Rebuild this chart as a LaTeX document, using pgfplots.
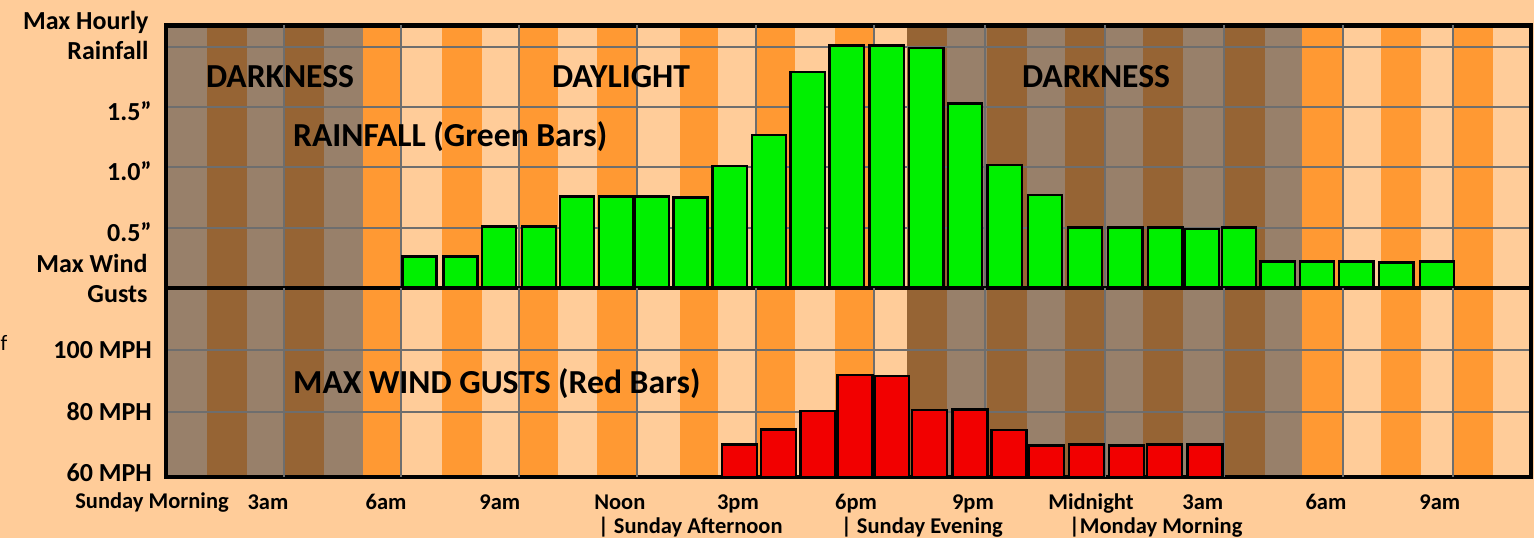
\documentclass[border=0pt]{standalone}
\usepackage{pgfplots}
\pgfplotsset{compat=1.18}
\usepackage{pgfplotstable}
\usepackage{fontspec}
\setmainfont{Carlito}
\definecolor{bg}{HTML}{FFCC99}
\definecolor{dkgray}{HTML}{98806A}
\definecolor{dkbrown}{HTML}{966434}
\definecolor{dorange}{HTML}{FF9933}
\definecolor{dlight}{HTML}{FFCC99}
\definecolor{gridc}{HTML}{6E6E6E}
\definecolor{barg}{HTML}{00F000}
\definecolor{barr}{HTML}{F20000}

% Max hourly rainfall (inches); x = hour position
\pgfplotstableread{
x y
6.46 0.26
7.52 0.26
8.51 0.51
9.54 0.51
10.52 0.76
11.52 0.76
12.45 0.76
13.44 0.75
14.45 1.01
15.46 1.27
16.46 1.79
17.46 2.01
18.49 2.01
19.51 1.99
20.51 1.53
21.53 1.02
22.57 0.77
23.60 0.50
24.63 0.50
25.66 0.50
26.60 0.49
27.56 0.50
28.56 0.22
29.57 0.22
30.58 0.22
31.61 0.21
32.66 0.22
}\rain

% Max wind gusts (MPH)
\pgfplotstableread{
x y
14.70 69.4
15.71 74.3
16.72 80.3
17.68 92.0
18.62 91.7
19.59 80.6
20.63 80.8
21.64 74.1
22.61 69.0
23.64 69.4
24.67 69.0
25.64 69.4
26.69 69.4
}\wind

\pgfplotsset{chart/.style={
  scale only axis, width=1365pt, xmin=-0.065, xmax=35.08,
  axis line style={line width=4.5pt, black, line cap=rect},
  major tick length=0pt, minor tick length=0pt,
  ymajorgrids, grid style={gridc, line width=2pt},
  extra x ticks={2.97,5.98,9.02,12.05,15.12,18.16,21.02,24.11,27.17,30.24,33.07},
  extra x tick style={grid=major, xticklabel={}},
  yticklabel style={font=\fontsize{26}{30}\selectfont\bfseries, inner sep=0pt, xshift=-14pt},
}}

\begin{document}
\begin{tikzpicture}[x=1pt,y=1pt]
\fill[bg] (0,0) rectangle (1534,538);
\path[use as bounding box] (0,0) rectangle (1534,538);
% day / night stripes (one per hour)
\foreach \a/\b/\c in {168/207/dkgray,207/247/dkbrown,247/285/dkgray,285/324/dkbrown,324/363/dkgray,
  363/400/dorange,400/442/dlight,442/482/dorange,482/520/dlight,520/558/dorange,558/597/dlight,
  597/637/dorange,637/680/dlight,680/718/dorange,718/757/dlight,757/795/dorange,795/835/dlight,
  835/873/dorange,873/907/dlight,907/947/dkbrown,947/987/dkgray,987/1027/dkbrown,1027/1065/dkgray,
  1065/1105/dkbrown,1105/1143/dkgray,1143/1183/dkbrown,1183/1224/dkgray,1224/1265/dkbrown,
  1265/1302/dkgray,1302/1343/dorange,1343/1381/dlight,1381/1421/dorange,1421/1453/dlight,
  1453/1493/dorange,1493/1528/dlight}
  {\fill[\c] (\a,60.8) rectangle (\b,512.5);}

% upper panel: rainfall
\begin{axis}[chart, at={(166pt,250pt)}, anchor=south west, height=262.5pt,
  ymin=0, ymax=2.177, ytick={0.5,1,1.5,2}, yticklabels={0.5”,1.0”,1.5”,{}},
  yticklabel style={yshift=-4pt}, xtick=\empty]
\addplot[ybar, bar width=0.88, fill=barg, draw=black, line width=2.5pt] table[x=x,y=y]{\rain};
\end{axis}

% lower panel: wind gusts
\begin{axis}[chart, at={(166pt,60.8pt)}, anchor=south west, height=189.2pt,
  ymin=58.7, ymax=120.3, ytick={80,100}, yticklabels={80 MPH,100 MPH},
  extra y ticks={60}, extra y tick labels={60 MPH}, extra y tick style={grid=none},
  xtick={2.56,5.60,8.53,11.62,14.66,17.70,20.71,23.75,26.63,29.80,32.73},
  xticklabels={3am,6am,9am,Noon,3pm,6pm,9pm,Midnight,3am,6am,9am},
  xticklabel style={font=\fontsize{22.5}{27}\selectfont\bfseries, anchor=base, yshift=-31.8pt}]
\addplot[ybar, bar width=0.9, fill=barr, draw=black, line width=2.5pt] table[x=x,y=y]{\wind};
\end{axis}

% axis titles and annotations
\node[anchor=east, align=right, font=\fontsize{26}{30}\selectfont\bfseries] at (152,503) {Max Hourly\\Rainfall};
\node[anchor=east, align=right, font=\fontsize{26}{30}\selectfont\bfseries] at (151,260) {Max Wind\\Gusts};
\node[anchor=base, font=\fontsize{22.5}{27}\selectfont\bfseries] at (152,29) {Sunday Morning};
\node[anchor=base west, inner sep=0pt, font=\fontsize{22.5}{27}\selectfont\bfseries] at (598,4) {| Sunday Afternoon};
\node[anchor=base west, inner sep=0pt, font=\fontsize{22.5}{27}\selectfont\bfseries] at (841,4) {| Sunday Evening};
\node[anchor=base west, inner sep=0pt, font=\fontsize{22.5}{27}\selectfont\bfseries] at (1069,4) {|Monday Morning};
\node[font=\fontsize{33.6}{38}\selectfont\bfseries] at (280,461) {DARKNESS};
\node[font=\fontsize{33.6}{38}\selectfont\bfseries] at (621,461) {DAYLIGHT};
\node[font=\fontsize{33.6}{38}\selectfont\bfseries] at (1096,461) {DARKNESS};
\node[anchor=west, inner sep=0pt, font=\fontsize{33.6}{38}\selectfont\bfseries] at (293,401) {RAINFALL (Green Bars)};
\node[anchor=west, inner sep=0pt, font=\fontsize{33.6}{38}\selectfont\bfseries] at (293,154) {MAX WIND GUSTS (Red Bars)};
\node[anchor=base west, inner sep=0pt, font=\fontsize{22}{26}\selectfont] at (0.5,187) {f};
\end{tikzpicture}
\end{document}
